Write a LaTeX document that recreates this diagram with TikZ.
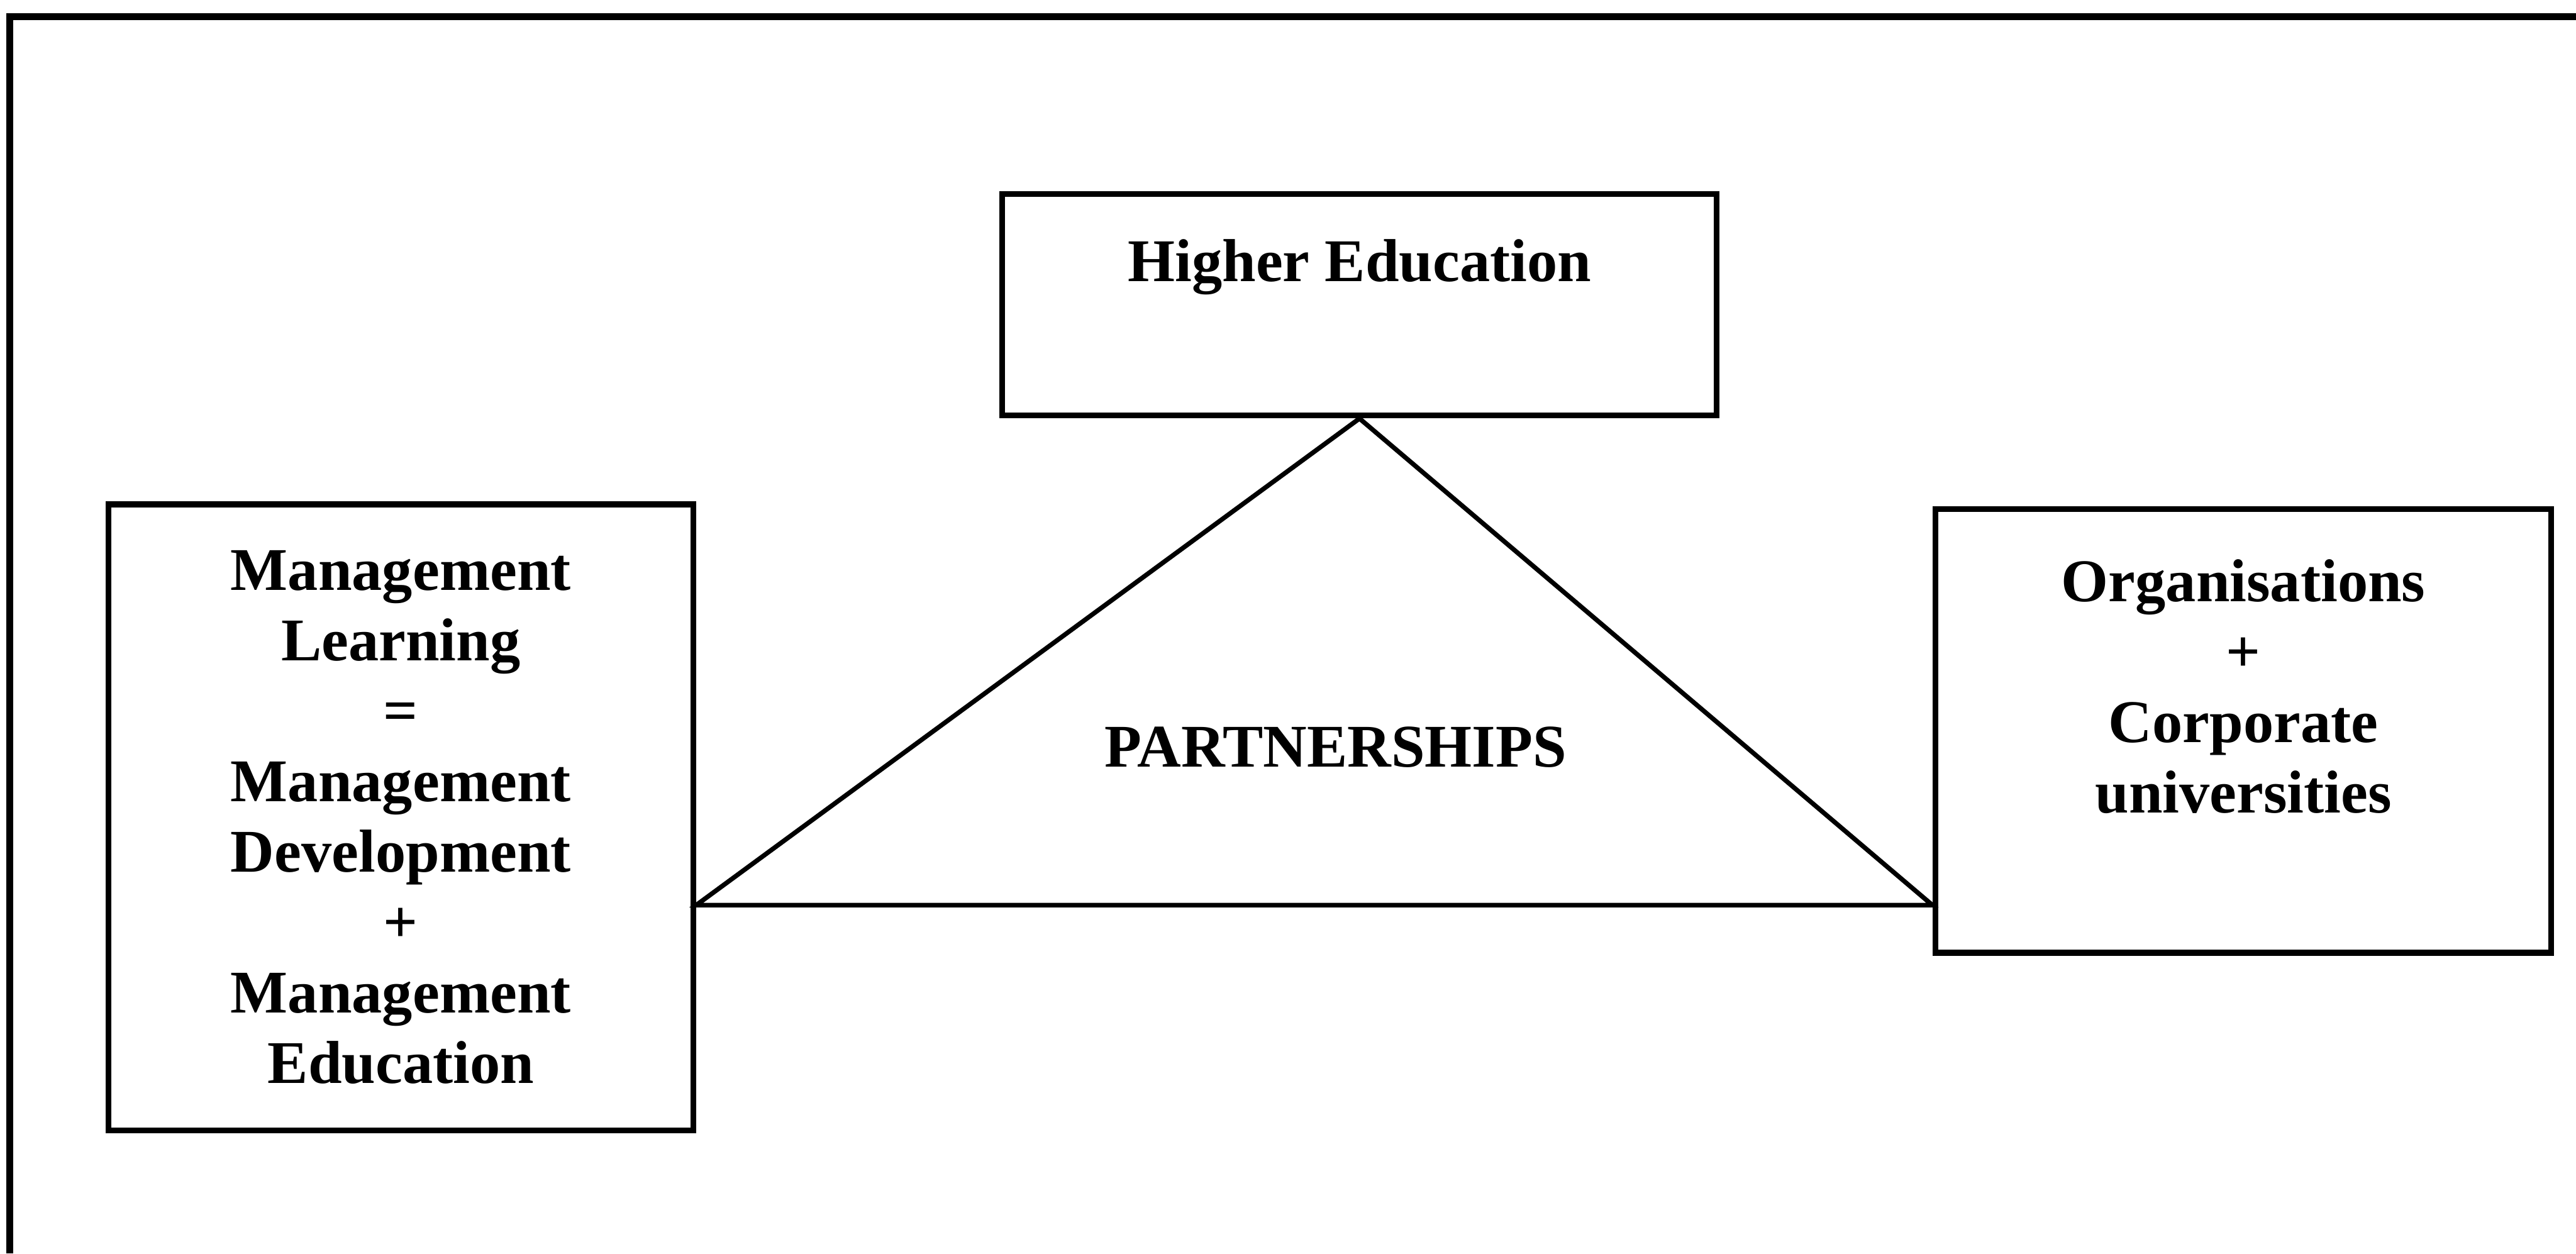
\documentclass[tikz,border=0pt]{standalone}
\usepackage{fontspec}
\setmainfont{Liberation Serif}
\usetikzlibrary{positioning, calc}

\begin{document}
\begin{tikzpicture}[
        box/.style={draw, line width=1pt, inner sep=0pt},
        lbl/.style={font=\fontsize{10.5}{12.2}\selectfont\bfseries, align=center}]
        \useasboundingbox (0,0) rectangle (15.68,7.63);

        % Open frame (top and left sides only)
        \draw [line width=1.2pt] (0.06,0) -- (0.06,7.53) -- (15.68,7.53);

        % Higher education, text near the top of its box
        \node [box, minimum width=4.35cm, minimum height=1.35cm] (hedu) at (8.275,5.775) {};
        \node [lbl, below=0.17cm of hedu.north] (hedutxt) {Higher Education};

        % Management learning box
        \node [box, lbl, minimum width=3.56cm, minimum height=3.81cm] (mlearn) at (2.44,2.655)
            {Management\\Learning\\=\\Management\\Development\\+\\Management\\Education};

        % Organisations box
        \node [box, minimum width=3.75cm, minimum height=2.70cm] (orgs) at (13.655,3.18) {};
        \node [lbl, below=0.2cm of orgs.north] (orgstxt) {Organisations\\+\\Corporate\\universities};

        % Partnership triangle between the three boxes
        \coordinate (pl) at (mlearn.east |- 0,2.12);
        \coordinate (pr) at (orgs.west |- 0,2.12);
        \draw [line width=0.8pt] (hedu.south) -- (pr) -- (pl) -- cycle;
        \node [lbl] (partner) at (8.13,3.08) {PARTNERSHIPS};
    \end{tikzpicture}
\end{document}
